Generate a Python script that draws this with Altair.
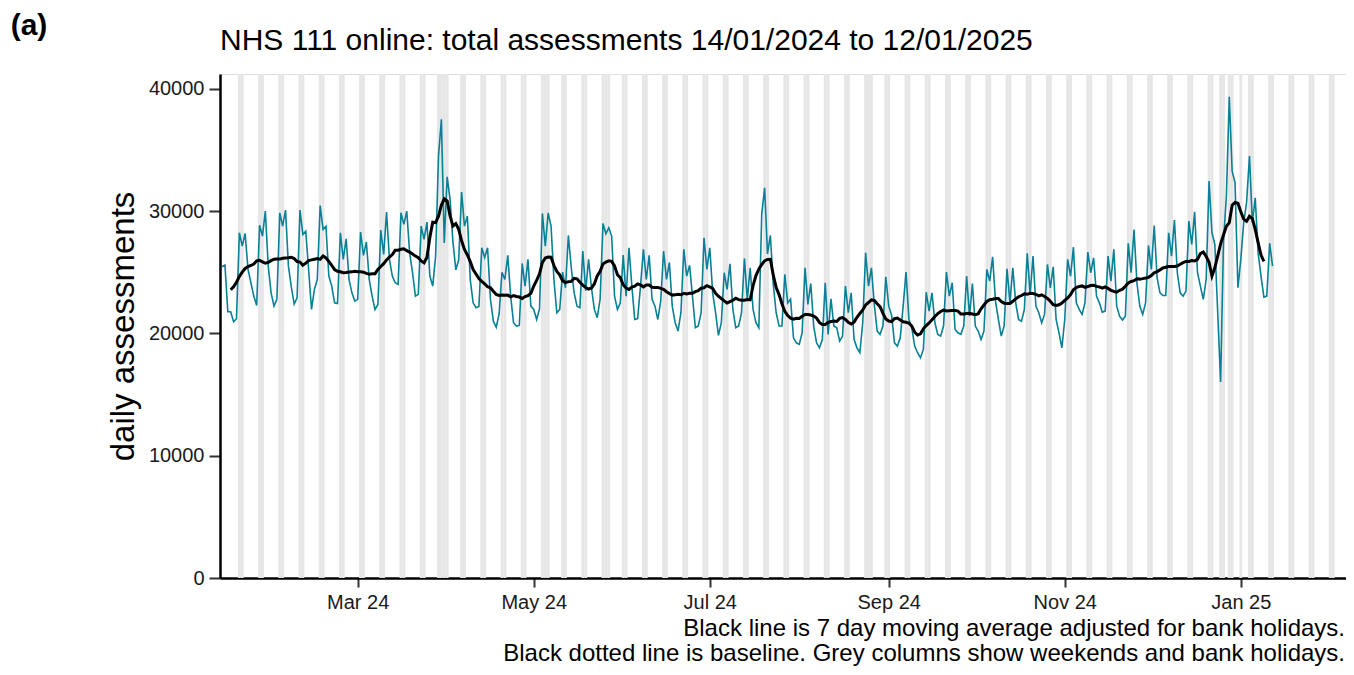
import pandas as pd
import altair as alt

# ---------------- data ----------------
START_DATE = "2024-01-14"
daily_assessments = [
    25450, 25590, 21770, 21770, 20950, 21200, 28230, 27140, 28170, 25230,
    24140, 23050, 22290, 28850, 27960, 30000, 25500, 23320, 22230, 22780,
    29860, 28770, 30080, 25500, 23800, 22400, 22900, 30080, 28090, 28360,
    25200, 21960, 23600, 24400, 30460, 28500, 28770, 24690, 23870, 22500,
    22450, 28230, 26050, 27740, 24410, 23320, 22640, 22780, 28280, 26380,
    27470, 24410, 23050, 21960, 22370, 28450, 26460, 29920, 26050, 24690,
    24140, 24000, 29860, 28910, 30000, 26590, 24960, 23050, 23190, 28770,
    27690, 29100, 24690, 23870, 26320, 34500, 37500, 27400, 32800, 31000,
    27500, 25200, 26000, 31550, 28770, 29590, 24400, 22500, 22100, 22200,
    27000, 26200, 27000, 22800, 21000, 20500, 21600, 25000, 24410, 26380,
    23050, 20870, 20600, 20650, 25720, 23870, 26050, 22230, 21960, 21140,
    22000, 29810, 27140, 29860, 28770, 24410, 21690, 21960, 25010, 23730,
    28010, 25370, 23320, 22230, 22100, 26730, 23500, 26050, 23730, 21960,
    21280, 22780, 28990, 28150, 28640, 27960, 23050, 21960, 22500, 26400,
    23050, 27000, 23870, 21140, 21200, 23870, 26870, 24410, 26380, 22780,
    22230, 21140, 22640, 26730, 24410, 25800, 22230, 20870, 20190, 21690,
    26870, 24690, 25560, 23050, 20460, 20600, 21690, 27820, 25230, 27000,
    23320, 21690, 19840, 20870, 24960, 23600, 25690, 21960, 20460, 20600,
    21690, 26130, 22780, 25370, 21960, 20870, 20460, 29730, 31910, 26500,
    28010, 24000, 21690, 20600, 20600, 24820, 22500, 22800, 19640, 19230,
    19100, 20050, 25360, 22370, 24080, 20600, 19230, 18820, 19500, 24140,
    19920, 22830, 20600, 20460, 19370, 19780, 23870, 21690, 23320, 19500,
    18820, 18420, 20870, 26590, 23870, 25360, 22370, 20190, 19920, 20600,
    24630, 22230, 21500, 19230, 18960, 19640, 22230, 25010, 21140, 20460,
    18960, 18420, 18010, 18690, 23370, 21820, 23320, 20870, 19920, 19780,
    20600, 25010, 23050, 24140, 20320, 20050, 19920, 20600, 24680, 21410,
    24080, 20600, 20190, 19500, 20190, 25230, 24270, 26260, 22640, 21140,
    19780, 20600, 25280, 22500, 25360, 22500, 21140, 21000, 21960, 26540,
    23180, 26320, 22230, 21690, 20870, 21550, 25640, 23730, 25450, 21140,
    20050, 18820, 21140, 26050, 24680, 27050, 22500, 21960, 21550, 22500,
    26650, 24960, 26180, 23050, 22500, 21740, 21820, 26320, 24280, 26870,
    22230, 21410, 21090, 21410, 27360, 24960, 28500, 24140, 22230, 21550,
    22500, 27190, 25230, 28820, 24550, 23320, 23100, 23100, 28230, 26320,
    29260, 24960, 23320, 23050, 23460, 29180, 27270, 29940, 24960, 23870,
    22780, 24410, 32450, 28230, 27270, 21690, 16020, 27500, 31200, 39350,
    33270, 32320, 23730, 26050, 29050, 30680, 34500, 29050, 31090, 26590,
    24690, 22970, 23050, 27360, 25500,
]
bank_holidays = ["2024-03-29", "2024-04-01", "2024-05-06", "2024-05-27",
                 "2024-08-26", "2024-12-25", "2024-12-26", "2025-01-01"]
SHADE_FROM = "2024-01-15"
SHADE_TO = "2025-02-09"
x_tick_months = [(2024, 3), (2024, 5), (2024, 7), (2024, 9), (2024, 11), (2025, 1)]
y_ticks = [0, 10000, 20000, 30000, 40000]
title_text = "NHS 111 online: total assessments 14/01/2024 to 12/01/2025"
panel_label = "(a)"
y_title = "daily assessments"
caption_1 = "Black line is 7 day moving average adjusted for bank holidays."
caption_2 = "Black dotted line is baseline. Grey columns show weekends and bank holidays."

# ---------------- tables ----------------
dates = pd.date_range(START_DATE, periods=len(daily_assessments), freq="D")
df = pd.DataFrame({"date": dates.strftime("%Y-%m-%dT%H:%M:%SZ"),
                   "value": daily_assessments})

all_days = pd.date_range(SHADE_FROM, SHADE_TO, freq="D")
shade_days = [d for d in all_days
              if d.dayofweek >= 5 or d.strftime("%Y-%m-%d") in bank_holidays]
half = pd.Timedelta(hours=12)
shade = pd.DataFrame({
    "start": [(d - half).strftime("%Y-%m-%dT%H:%M:%SZ") for d in shade_days],
    "end": [(d + half).strftime("%Y-%m-%dT%H:%M:%SZ") for d in shade_days],
})

FONT = "Liberation Sans"
W, H = 1126, 504

x_scale = alt.Scale(type="utc", domain=[
    alt.DateTime(year=2024, month=1, date=13, hours=6, minutes=58, utc=True),
    alt.DateTime(year=2025, month=2, date=6, hours=10, minutes=48, utc=True)])
y_scale = alt.Scale(domain=[0, 41210], nice=False, zero=True)

x_axis = alt.Axis(
    values=[alt.DateTime(year=y, month=m, date=1, utc=True) for y, m in x_tick_months],
    labelExpr="utcFormat(datum.value, '%b %y')",
    title=None, grid=False, labelFontSize=20, labelColor="#1a1a1a", labelFont=FONT,
    tickSize=9, tickWidth=2, tickColor="#333333", domainColor="black",
    domainWidth=2.5, labelPadding=5, labelFlush=False, labelOverlap=False)
y_axis = alt.Axis(
    values=y_ticks, format="d", title=y_title, grid=False,
    labelFontSize=20, labelColor="#1a1a1a", labelFont=FONT,
    tickSize=11, tickWidth=2, tickColor="#333333", domainColor="black",
    domainWidth=2.5, labelPadding=5,
    titleFont=FONT, titleFontSize=33, titleFontWeight="normal", titleColor="black",
    titleAngle=270, titleAlign="center", titleBaseline="middle",
    titleX=-97, titleY=H / 2)

shade_layer = alt.Chart(shade).mark_rect(color="#e6e6e6", clip=True).encode(
    x=alt.X("start:T", scale=x_scale, axis=x_axis),
    x2="end:T",
    y=alt.value(0), y2=alt.value(H))

base = alt.Chart(df)
teal = base.mark_line(color="#0a8096", strokeWidth=1.6, clip=True).encode(
    x=alt.X("date:T", scale=x_scale, axis=x_axis),
    y=alt.Y("value:Q", scale=y_scale, axis=y_axis))

ma = base.transform_window(
    ma="mean(value)", n="count()", frame=[-3, 3], sort=[alt.SortField("date")]
).transform_filter("datum.n == 7").mark_line(
    color="black", strokeWidth=3, clip=True).encode(
    x=alt.X("date:T", scale=x_scale, axis=x_axis),
    y=alt.Y("ma:Q", scale=y_scale, axis=y_axis))

one = pd.DataFrame({"k": [0]})
label_a = alt.Chart(one).mark_text(
    font=FONT, fontSize=30, fontWeight="bold", align="center", baseline="middle",
    color="black").encode(text=alt.value(panel_label), x=alt.value(-191), y=alt.value(-48))
title_mark = alt.Chart(one).mark_text(
    font=FONT, fontSize=30, align="left", baseline="alphabetic", color="black").encode(
    text=alt.value(title_text), x=alt.value(0), y=alt.value(-24))
cap1 = alt.Chart(one).mark_text(
    font=FONT, fontSize=24, align="right", baseline="alphabetic", color="black").encode(
    text=alt.value(caption_1), x=alt.value(W - 1), y=alt.value(562))
cap2 = alt.Chart(one).mark_text(
    font=FONT, fontSize=24, align="right", baseline="alphabetic", color="black").encode(
    text=alt.value(caption_2), x=alt.value(W - 1), y=alt.value(587))

chart = alt.layer(shade_layer, teal, ma, label_a, title_mark, cap1, cap2).properties(
    width=W, height=H,
    autosize=alt.AutoSizeParams(type="none"),
    padding={"left": 212, "top": 66, "right": 0, "bottom": 89},
).configure_view(stroke=None).configure(font=FONT)

chart.save("out.html", embed_options={"renderer": "svg", "actions": False})
